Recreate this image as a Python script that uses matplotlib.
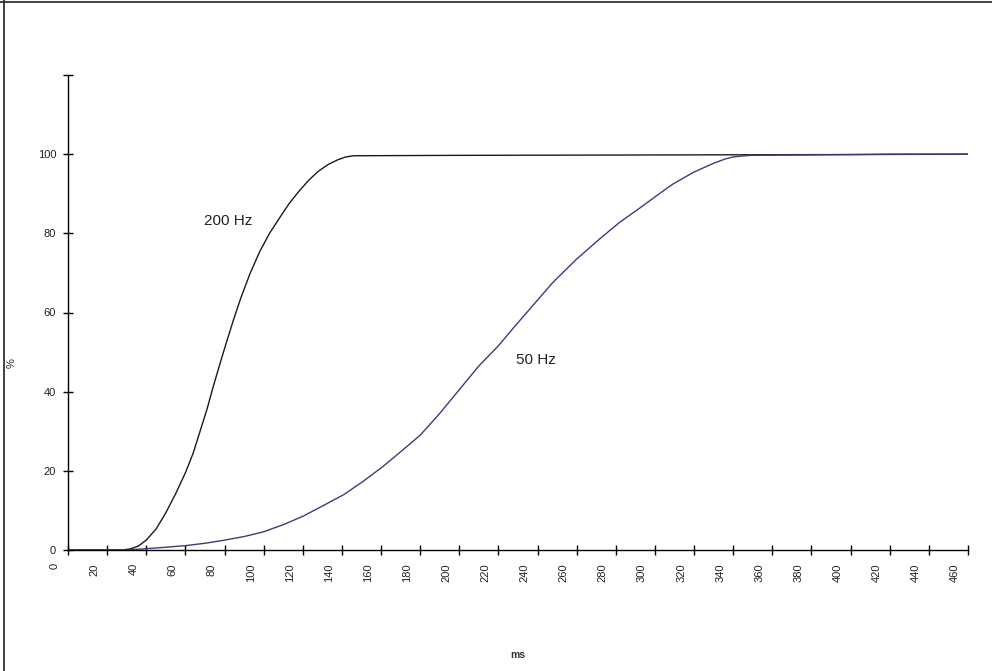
import matplotlib
matplotlib.use("Agg")
import matplotlib.pyplot as plt
from matplotlib.lines import Line2D
from matplotlib.transforms import ScaledTranslation

plt.rcParams['font.family'] = ['Liberation Sans', 'DejaVu Sans']

# 200 Hz curve (ms, %)
t_200 = [0, 20, 28, 32, 36, 40, 45, 50, 55, 60, 64, 67.5, 71, 74.3, 78, 81, 84.5, 88, 93, 98,
         103, 108, 113, 118, 123, 128, 133, 138, 142, 146, 200, 300, 400, 460]
p_200 = [0, 0, 0, 0.3, 1.0, 2.5, 5.3, 9.4, 14.2, 19.5, 24.5, 30.0, 35.5, 41.4, 47.6, 52.5, 58.0, 63.2, 69.8, 75.4,
         80.0, 83.8, 87.5, 90.6, 93.4, 95.7, 97.4, 98.6, 99.3, 99.6, 99.7, 99.8, 99.9, 100]

# 50 Hz curve (ms, %)
t_50 = [0, 30, 42, 50, 60, 70, 79, 90, 100, 110, 120, 130, 141, 151, 161, 170, 180, 190, 200, 210,
        220, 228, 238, 248, 260, 272, 282, 292, 300, 309, 320, 330, 336, 340, 345, 349, 400, 420, 460]
p_50 = [0, 0, 0.4, 0.7, 1.1, 1.7, 2.4, 3.4, 4.6, 6.4, 8.5, 11.1, 14.0, 17.4, 21.1, 24.8, 29.0, 34.5, 40.5, 46.5,
        51.6, 56.3, 62.0, 67.7, 73.5, 78.7, 82.8, 86.3, 89.2, 92.4, 95.5, 97.7, 98.8, 99.3, 99.55, 99.7, 99.9, 100, 100]

x_ticks = list(range(0, 461, 20))
y_ticks = [0, 20, 40, 60, 80, 100, 120]
y_labels = ['0', '20', '40', '60', '80', '100', '']

fig = plt.figure(figsize=(9.92, 6.71), dpi=100)
ax = fig.add_axes([68 / 992, 1 - 550 / 671, 900 / 992, 475 / 671])

ax.plot(t_200, p_200, color='#1a1a1a', lw=1.0)
ax.plot(t_50, p_50, color='#3d3b7a', lw=1.0)

ax.set_xlim(0, 460)
ax.set_ylim(0, 120)
ax.spines['top'].set_visible(False)
ax.spines['right'].set_visible(False)
ax.spines['left'].set_linewidth(1.0)
ax.spines['bottom'].set_linewidth(1.0)

ax.set_xticks(x_ticks)
ax.set_xticklabels([str(v) for v in x_ticks], rotation=90, fontsize=8, color='#222222')
ax.set_yticks(y_ticks)
ax.set_yticklabels(y_labels, fontsize=8, color='#222222')
ax.tick_params(axis='both', direction='inout', length=7, width=1.0)
ax.tick_params(axis='x', pad=6)
ax.tick_params(axis='y', pad=5)

# category-style labels sit left of their ticks
shift = ScaledTranslation(-13 / 100, 0, fig.dpi_scale_trans)
for lab in ax.get_xticklabels():
    lab.set_transform(lab.get_transform() + shift)

ax.text(82, 83, '200 Hz', fontsize=11, ha='center', va='center', color='#222222')
ax.text(239, 48, '50 Hz', fontsize=11, ha='center', va='center', color='#222222')

fig.text(12 / 992, 1 - 363 / 671, '%', rotation=90, fontsize=8, ha='center', va='center', color='#222222')
fig.text(518 / 992, 1 - 655 / 671, 'ms', fontsize=7.5, fontweight='bold', ha='center', va='center', color='#333333')

# frame lines (left and top)
fig.add_artist(Line2D([4 / 992, 4 / 992], [0, 1], transform=fig.transFigure, color='#222222', lw=1.2))
fig.add_artist(Line2D([0, 1], [1 - 1.5 / 671, 1 - 1.5 / 671], transform=fig.transFigure, color='#222222', lw=1.2))

fig.savefig('out.png', dpi=100)
